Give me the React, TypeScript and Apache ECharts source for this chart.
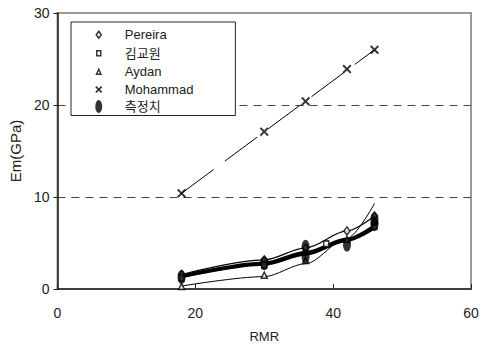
import React, { useEffect, useRef } from "react";
import * as echarts from "echarts";

const seriesNames = ["Pereira", "김교원", "Aydan", "Mohammad", "측정치"];
const xTicks = [0, 20, 40, 60];
const yTicks = [0, 10, 20, 30];

// markers
const pereiraPts = [[18, 1.58], [30, 3.16], [36, 4.47], [42, 6.31], [46, 7.94]];
const kimPts = [[18, 1.2], [30, 2.6], [39, 4.9], [46, 6.8]];
const aydanPts = [[18, 0.27], [30, 1.5], [36, 3.1], [42, 5.4], [46, 7.46]];
const mohammadPts = [[18, 10.4], [30, 17.1], [36, 20.4], [42, 23.9], [46, 26.0]];
const measuredPts = [[18, 1.3], [30, 2.8], [36, 4.6], [36, 3.5], [42, 4.8], [46, 7.05], [46, 7.55]];

// trend lines
const pereiraTrend = [[18, 1.58], [30, 3.16], [36, 4.47], [42, 6.31], [46, 7.94]];
const kimTrend = [[18, 1.3], [30, 2.65], [36, 3.75], [42, 5.25], [46, 6.6]];
const aydanTrend = [[18, 0.32], [30, 1.35], [36, 2.75], [42, 5.5], [46, 9.3]];
const measuredTrend = [[18, 1.4], [30, 2.8], [36, 3.95], [42, 5.4], [46, 6.85]];
const mohammadTrend = [[18, 10.4], [46, 26.0]];

const FONT = "'Liberation Sans', 'Noto Sans CJK KR', Arial, sans-serif";

function xPoly(cx: number, cy: number, h: number, t: number) {
  const p = [
    [-h, -h + t], [-h + t, -h], [0, -t], [h - t, -h], [h, -h + t], [t, 0],
    [h, h - t], [h - t, h], [0, t], [-h + t, h], [-h, h - t], [-t, 0],
  ];
  return "M" + p.map((q) => `${cx + q[0]},${cy + q[1]}`).join("L") + "Z";
}

const PAD = "M0,0M42,14";
const iconDiamond = "path://" + PAD + "M21,3.5L23.5,7L21,10.5L18.5,7Z";
const iconSquare = "path://" + PAD + "M19,4.5L23,4.5L23,9.5L19,9.5Z";
const iconTriangle = "path://" + PAD + "M21,4.5L23.2,9.5L18.8,9.5Z";
const iconX = "path://" + PAD + xPoly(21, 7, 3.5, 1.2);
const iconEllipse = "path://" + PAD + "M17.5,7A3.5,6.5 0 1 0 24.5,7A3.5,6.5 0 1 0 17.5,7Z";

const symX = "path://" + xPoly(5, 5, 5, 1.5);
const symEllipse = "path://M0,7A4,7 0 1 0 8,7A4,7 0 1 0 0,7Z";

export default function App() {
  const ref = useRef<HTMLDivElement>(null);
  useEffect(() => {
    document.body.style.margin = "0";
    const chart = echarts.init(ref.current!, null, { renderer: "svg" });
    const open = { color: "#fff", borderColor: "#000", borderWidth: 1.5 };
    const lineBase = (data: number[][], width: number, smooth: number, extra: any = {}) => ({
      type: "line",
      data,
      smooth,
      smoothMonotone: "x",
      showSymbol: false,
      symbol: "none",
      silent: true,
      lineStyle: { color: "#000", width, ...extra },
      z: 2,
    });
    chart.setOption({
      animation: false,
      backgroundColor: "#fff",
      textStyle: { fontFamily: FONT },
      grid: {
        left: 57, right: 16, top: 13, bottom: 63,
        show: true, borderColor: "#999", borderWidth: 2, backgroundColor: "transparent",
      },
      legend: {
        left: 71, top: 22, orient: "vertical",
        padding: [5, 42, 2, 6],
        itemWidth: 42, itemHeight: 14, itemGap: 3,
        backgroundColor: "#fff", borderColor: "#222", borderWidth: 1,
        textStyle: { fontFamily: FONT, fontSize: 13, color: "#222" },
        selectedMode: false,
        data: [
          { name: seriesNames[0], icon: iconDiamond, itemStyle: open },
          { name: seriesNames[1], icon: iconSquare, itemStyle: open },
          { name: seriesNames[2], icon: iconTriangle, itemStyle: open },
          { name: seriesNames[3], icon: iconX, itemStyle: { color: "#000", borderWidth: 0 } },
          { name: seriesNames[4], icon: iconEllipse, itemStyle: { color: "#000", borderWidth: 0 } },
        ],
        z: 10,
      },
      xAxis: {
        type: "value", min: xTicks[0], max: xTicks[xTicks.length - 1], interval: 20,
        name: "RMR", nameLocation: "middle", nameGap: 41,
        nameTextStyle: { fontFamily: FONT, fontSize: 13, color: "#222" },
        axisLine: { show: true, onZero: false, lineStyle: { color: "#222", width: 1.5 } },
        axisTick: { show: true, inside: true, length: 5, lineStyle: { color: "#222" } },
        axisLabel: { fontFamily: FONT, fontSize: 14, color: "#222", margin: 17 },
        splitLine: { show: false },
      },
      yAxis: {
        type: "value", min: yTicks[0], max: yTicks[yTicks.length - 1], interval: 10,
        name: "Em(GPa)", nameLocation: "middle", nameGap: 27, nameRotate: 90,
        nameTextStyle: { fontFamily: FONT, fontSize: 15, color: "#222" },
        axisLine: { show: true, onZero: false, lineStyle: { color: "#222", width: 1.5 } },
        axisTick: { show: true, inside: false, length: 4, lineStyle: { color: "#222" } },
        axisLabel: { fontFamily: FONT, fontSize: 14, color: "#222", margin: 8 },
        splitLine: {
          show: true, showMinLine: false, showMaxLine: false,
          lineStyle: { color: "#444", type: [8, 6], width: 1 },
        },
      },
      series: [
        lineBase(mohammadTrend, 1, 0, { type: [40, 14] }) as any,
        lineBase(aydanTrend, 1, 0.3),
        lineBase(pereiraTrend, 1.2, 0.3),
        lineBase(kimTrend, 2.5, 0.3),
        lineBase(measuredTrend, 3.5, 0.3),
        { type: "scatter", name: seriesNames[0], data: pereiraPts, symbol: "diamond", symbolSize: [6, 8], itemStyle: open, z: 5 },
        { type: "scatter", name: seriesNames[1], data: kimPts, symbol: "rect", symbolSize: [5, 6], itemStyle: open, z: 5 },
        { type: "scatter", name: seriesNames[2], data: aydanPts, symbol: "triangle", symbolSize: [6, 6], itemStyle: open, z: 5 },
        { type: "scatter", name: seriesNames[3], data: mohammadPts, symbol: symX, symbolSize: 9, itemStyle: { color: "#000" }, z: 5 },
        { type: "scatter", name: seriesNames[4], data: measuredPts, symbol: symEllipse, symbolSize: [8, 14], symbolKeepAspect: false, itemStyle: { color: "#000" }, z: 6 },
      ],
    });
    return () => chart.dispose();
  }, []);
  return (
    <div
      ref={ref}
      style={{ position: "absolute", left: 0, top: 0, width: 487, height: 352 }}
    />
  );
}
